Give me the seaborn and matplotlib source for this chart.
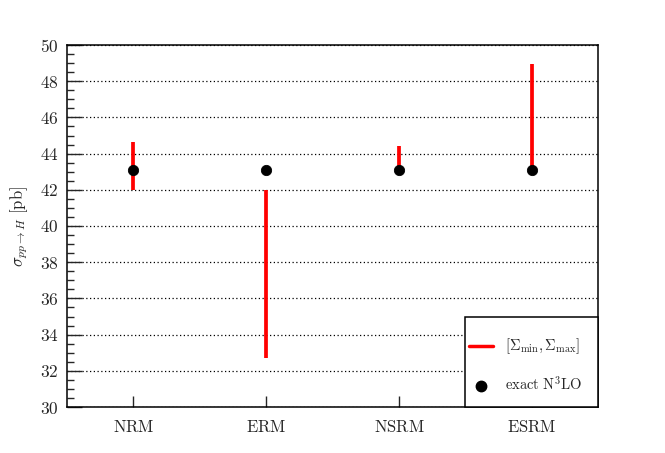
import pandas as pd
import matplotlib
matplotlib.use("Agg")
import matplotlib.pyplot as plt
import seaborn as sns
from matplotlib.ticker import MultipleLocator, FuncFormatter
from matplotlib.lines import Line2D
from matplotlib.patches import Rectangle

# values
schemes = ["NRM", "ERM", "NSRM", "ESRM"]
exact_n3lo = [43.1, 43.1, 43.1, 43.1]
sigma_min = [42.0, 32.7, 43.1, 43.1]
sigma_max = [44.65, 42.0, 44.4, 48.95]

df = pd.DataFrame({"scheme": schemes, "exact": exact_n3lo,
                   "smin": sigma_min, "smax": sigma_max})
df["pos"] = range(len(df))

sns.set_style("ticks")
plt.rcParams["mathtext.fontset"] = "cm"
plt.rcParams["font.family"] = ["cmr10", "DejaVu Serif"]
plt.rcParams["axes.formatter.use_mathtext"] = True

fig = plt.figure(figsize=(6.65, 4.53), dpi=100)
ax = fig.add_axes([67 / 665, 1 - 407 / 453, 531 / 665, 362 / 453])

# range bars
ax.vlines(df["pos"], df["smin"], df["smax"], color="red", linewidth=2.7, zorder=3)
# exact points
sns.scatterplot(data=df, x="pos", y="exact", color="black", s=55,
                edgecolor="black", zorder=4, ax=ax, legend=False)

ax.set_xlim(-0.5, 3.5)
ax.set_ylim(30, 50)
ax.set_xticks(df["pos"])
ax.set_xticklabels([r"$\mathrm{%s}$" % s for s in schemes], fontsize=12)
ax.yaxis.set_major_locator(MultipleLocator(2))
ax.yaxis.set_minor_locator(MultipleLocator(0.5))
ax.yaxis.set_major_formatter(FuncFormatter(lambda v, p: r"$%d$" % v))
ax.tick_params(axis="y", which="major", direction="in", length=11, width=1,
               labelsize=12.5, pad=6)
ax.tick_params(axis="y", which="minor", direction="in", length=5, width=1)
ax.tick_params(axis="x", which="major", direction="in", length=8, width=1,
               labelsize=12, pad=9)
ax.set_xlabel("")
ax.set_ylabel(r"$\sigma_{pp\to H}$ $[\mathrm{pb}]$", fontsize=12)
ax.yaxis.set_label_coords(-0.07, 0.5)

for sp in ax.spines.values():
    sp.set_linewidth(1.1)
    sp.set_color("black")

ax.yaxis.grid(True, which="major", color="black", linestyle=(0, (1, 2)),
              linewidth=0.9)
ax.set_axisbelow(True)

# legend box (ROOT style, sits in the lower right corner)
ax.add_patch(Rectangle((0.7495, 0), 0.2505, 0.2486, transform=ax.transAxes,
                       facecolor="white", edgecolor="black", linewidth=1.1,
                       zorder=5, clip_on=False))
handles = [Line2D([], [], color="red", linewidth=2.5),
           Line2D([], [], color="black", marker="o", linestyle="none",
                  markersize=7.5)]
labels = [r"$[\Sigma_{\min},\Sigma_{\max}]$", r"$\mathrm{exact\ N^3LO}$"]
leg = ax.legend(handles, labels, loc="center", bbox_to_anchor=(0.8635, 0.1146),
                frameon=False, fontsize=10.5, handlelength=1.7,
                labelspacing=1.35, borderpad=0, handletextpad=0.8)
leg.set_zorder(6)

fig.savefig("out.png", dpi=100)
